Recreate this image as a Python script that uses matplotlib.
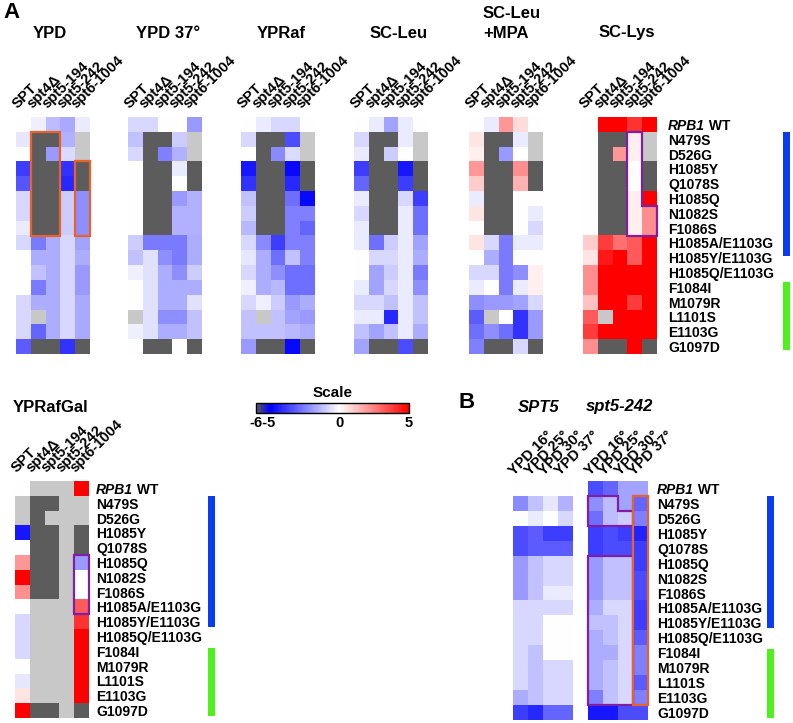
import numpy as np
import matplotlib.pyplot as plt
from matplotlib.colors import LinearSegmentedColormap, Normalize
from matplotlib.cm import ScalarMappable
from matplotlib.patches import Polygon

plt.rcParams['font.family'] = ['Liberation Sans', 'DejaVu Sans']
plt.rcParams['font.weight'] = 'bold'

W, H = 793, 723
D = -6.0      # no growth -> dark gray
N = np.nan    # not tested -> light gray

mutants = ['RPB1 WT', 'N479S', 'D526G', 'H1085Y', 'Q1078S', 'H1085Q', 'N1082S',
           'F1086S', 'H1085A/E1103G', 'H1085Y/E1103G', 'H1085Q/E1103G', 'F1084I',
           'M1079R', 'L1101S', 'E1103G', 'G1097D']
strains = ['SPT', 'spt4Δ', 'spt5-194', 'spt5-242', 'spt6-1004']
temps = ['YPD 16°', 'YPD 25°', 'YPD 30°', 'YPD 37°']

ypd = [
    [0, -0.3, -1.3, -1.7, -0.4],
    [-0.5, D, D, -1.5, N],
    [0, D, -2.0, -0.7, N],
    [-3.8, D, D, -4.0, D],
    [-3.3, D, D, -4.2, D],
    [-0.8, D, D, -1.0, -2.2],
    [-0.8, D, D, -1.0, -2.2],
    [-0.4, D, D, -1.0, -2.2],
    [-0.8, -2.6, -1.6, -0.8, -1.8],
    [0, -1.6, -1.6, -0.8, -1.6],
    [0, -1.2, -1.6, -0.8, -2.0],
    [0, -2.6, -1.6, -0.8, -2.0],
    [-0.8, -1.6, -1.6, -0.8, -1.7],
    [-0.8, N, -1.6, -0.8, -1.7],
    [-0.8, -3.0, -1.6, -0.8, -1.7],
    [-3.2, D, D, -4.0, D],
]
ypd37 = [
    [-0.8, -0.8, 0, 0, -2.0],
    [-1.2, D, D, -1.0, N],
    [-0.8, D, -2.5, -1.5, N],
    [0, D, D, -0.4, D],
    [0, D, D, 0, D],
    [0, D, D, -2.0, -1.5],
    [0, D, D, -1.5, -1.5],
    [0, D, D, -1.5, -1.5],
    [-1.0, -2.6, -2.6, -2.6, -1.6],
    [-1.2, -0.6, -2.2, -2.6, -1.6],
    [-0.3, -0.6, -1.6, -2.2, -1.0],
    [0, -0.6, -1.6, -1.6, -1.6],
    [0, -0.6, -1.6, -1.6, -0.6],
    [N, -0.6, -2.2, -2.2, -1.2],
    [-0.3, -0.6, -1.6, -1.6, -1.2],
    [0, D, D, 0, D],
]
ypraf = [
    [0, -0.4, -0.8, -0.8, 0],
    [-0.8, D, D, -3.5, N],
    [0, D, -2.3, -0.7, N],
    [-4.5, D, D, -4.8, D],
    [-4.0, D, D, -4.2, D],
    [-1.2, D, D, -2.8, -4.8],
    [-1.0, D, D, -2.5, -2.5],
    [-1.4, D, D, -2.5, -3.0],
    [-0.8, -2.3, -3.8, -2.5, -2.5],
    [-0.5, -1.6, -2.8, -1.2, -2.5],
    [-0.8, -1.6, -2.2, -2.8, -2.8],
    [-0.3, -1.6, -1.4, -2.8, -2.8],
    [-0.8, -0.3, -1.0, -2.0, -1.6],
    [-1.2, N, -1.2, -1.8, -2.0],
    [-1.2, -1.2, -1.2, -1.4, -1.6],
    [-2.0, D, D, -4.8, D],
]
scleu = [
    [0, -0.4, -1.8, -0.4, 0],
    [-0.8, D, D, -0.4, N],
    [-0.4, D, -1.0, 0, N],
    [-3.8, D, D, -4.5, D],
    [-3.0, D, D, -3.8, D],
    [-0.4, D, D, -0.8, -3.8],
    [-0.8, D, D, -0.4, -2.8],
    [-0.4, D, D, -0.4, -2.8],
    [-0.4, -2.8, -1.0, -0.4, -1.8],
    [0, -0.8, -0.8, -0.4, -1.6],
    [0, -1.8, -1.0, -0.4, -2.6],
    [-0.4, -1.8, -0.8, -0.4, -2.2],
    [-0.8, -0.8, -1.2, -0.4, -1.2],
    [-0.4, -0.4, -4.2, -0.4, -1.2],
    [-1.2, -1.8, -1.2, -0.4, -1.6],
    [-1.8, D, D, -3.5, D],
]
scleu_mpa = [
    [0, -0.4, 2.0, 0.7, 0],
    [0.5, D, D, -0.4, N],
    [0.3, D, -2.0, 0, N],
    [2.0, D, D, 2.2, D],
    [1.0, D, D, 1.5, D],
    [-0.4, D, D, 0, 0],
    [0.5, D, D, 0, -0.4],
    [0, D, D, 0, -0.8],
    [0.5, -0.8, -2.6, -0.4, -0.4],
    [0, -1.6, -2.6, 0, 0],
    [-0.8, -0.8, -2.6, -2.2, 0.3],
    [-0.4, 0, -2.6, -0.4, 0.3],
    [-2.2, -2.0, -2.0, -1.8, -0.8],
    [-3.2, N, 0, -4.0, -2.0],
    [-2.8, -2.2, -2.8, -4.0, -2.0],
    [-2.5, D, D, -0.8, D],
]
sclys = [
    [0, 5, 5, 4, 5],
    [0, D, D, 0.3, N],
    [0, D, 2.0, 0.3, N],
    [0, D, D, 0, D],
    [0, D, D, 0, D],
    [0, D, D, 0.3, 5],
    [0, D, D, 0.3, 2.2],
    [0, D, D, 0.3, 2.2],
    [1.0, 3.8, 2.8, 3.2, 5],
    [0.5, 4.5, 5, 3.2, 5],
    [2.2, 5, 5, 5, 5],
    [2.2, 5, 5, 5, 5],
    [1.2, 5, 5, 3.8, 5],
    [3.2, N, 5, 5, 5],
    [3.8, 5, 5, 5, 5],
    [2.2, D, D, 5, D],
]
rafgal = [
    [0, N, N, N, 5],
    [N, D, D, N, N],
    [N, D, N, N, N],
    [-4.5, D, D, N, D],
    [0, D, D, N, D],
    [2.0, D, D, N, -2.0],
    [5, D, D, N, 0],
    [2.2, D, D, N, 0],
    [0, N, N, N, 3.2],
    [-0.8, N, N, N, 4.0],
    [-0.8, N, N, N, 5],
    [-0.8, N, N, N, 5],
    [0, N, N, N, 5],
    [-0.5, N, N, N, 5],
    [0.5, N, N, N, 5],
    [5, D, D, N, D],
]
spt5_wt = [
    [0, 0, 0, 0],
    [-2.3, -1.2, -0.5, -1.5],
    [0, -0.4, 0, -0.8],
    [-3.5, -3.2, -3.8, -3.8],
    [-3.5, -3.2, -3.2, -3.2],
    [-2.0, -1.2, -0.8, -0.8],
    [-2.0, -1.2, -0.8, -0.8],
    [-2.0, -1.2, -0.4, -0.4],
    [-0.8, -0.8, -0.8, -0.8],
    [-0.8, -0.8, 0, 0],
    [-0.8, -0.8, 0, 0],
    [-0.8, -1.2, 0, 0],
    [-0.8, -1.2, -0.8, -0.8],
    [-0.8, -1.2, -0.8, -0.8],
    [-1.6, -1.2, -0.8, -0.8],
    [-3.8, -4.2, -3.0, -3.0],
]
spt5_242 = [
    [-3.5, -3.0, -1.8, -1.8],
    [-2.2, -1.3, -1.8, -3.0],
    [-2.8, -1.3, -1.0, -2.5],
    [-3.8, -3.5, -3.8, -4.3],
    [-3.8, -3.5, -3.5, -3.8],
    [-2.0, -1.2, -1.2, -3.8],
    [-2.0, -1.2, -1.2, -3.5],
    [-2.0, -1.2, -1.2, -3.5],
    [-1.6, -0.8, -0.8, -3.8],
    [-1.2, -1.2, -0.8, -3.8],
    [-1.6, -1.2, -0.8, -3.2],
    [-1.6, -1.6, -0.8, -2.5],
    [-1.6, -1.2, -0.8, -2.5],
    [-1.6, -1.2, -0.8, -3.2],
    [-2.5, -1.2, -0.8, -2.5],
    [-4.5, -4.5, -3.5, -3.5],
]

# row spans of the side bars (blue = first group, green = second group)
blue_span_top, green_span_top = (0.5, 8.9), (10.65, 15.25)
blue_span_low, green_span_low = (0.5, 9.35), (10.75, 15.35)

cmap = LinearSegmentedColormap.from_list(
    'scale', [(0, '#5c5c5c'), (1 / 11, '#0000ff'), (6 / 11, '#ffffff'), (1, '#ff0000')])
cmap.set_bad('#c8c8c8')
norm = Normalize(vmin=-6, vmax=5)
ORANGE = '#e8622a'
PURPLE = '#7f1fa3'

fig = plt.figure(figsize=(W / 100, H / 100), dpi=100)


def px_rect(x0, y0, w, h):
    return [x0 / W, 1 - (y0 + h) / H, w / W, h / H]


def fig_text(x, y, s, **kw):
    fig.text(x / W, 1 - y / H, s, va='center', **kw)


def heatmap(x0, y0, w, h, values, cols, gap=8):
    ax = fig.add_axes(px_rect(x0, y0, w, h))
    ax.imshow(np.array(values, float), cmap=cmap, norm=norm,
              aspect='auto', interpolation='nearest')
    ax.set_xticks([])
    ax.set_yticks([])
    for s in ax.spines.values():
        s.set_visible(False)
    for i, lab in enumerate(cols):
        ax.annotate(lab, xy=(i - 0.4, -0.5), xytext=(0, gap), textcoords='offset pixels',
                    rotation=45, rotation_mode='anchor', ha='left', va='baseline',
                    fontsize=10.5, fontweight='bold')
    return ax


def row_labels(ax, pad):
    for i, m in enumerate(mutants):
        if i == 0:
            t = ax.annotate('RPB1', xy=(1, i), xycoords=('axes fraction', 'data'),
                            xytext=(pad, 0), textcoords='offset pixels',
                            ha='left', va='center_baseline', fontsize=10,
                            fontweight='bold', fontstyle='italic')
            ax.annotate(' WT', xy=(1, 0), xycoords=t, ha='left', va='bottom',
                        fontsize=10, fontweight='bold')
        else:
            ax.annotate(m, xy=(1, i), xycoords=('axes fraction', 'data'),
                        xytext=(pad, 0), textcoords='offset pixels',
                        ha='left', va='center_baseline', fontsize=10, fontweight='bold')


def side_bars(x0, y0, h, blue, green):
    bax = fig.add_axes(px_rect(x0, y0, 7, h))
    bax.set_ylim(15.5, -0.5)
    bax.set_xlim(0, 1)
    bax.bar(0.5, blue[1] - blue[0], bottom=blue[0], width=1, color='#0a3cf2')
    bax.bar(0.5, green[1] - green[0], bottom=green[0], width=1, color='#4ff01c')
    bax.axis('off')


def outline(ax, pts, color):
    ax.add_patch(Polygon(pts, closed=True, fill=False, edgecolor=color,
                         lw=1.6, clip_on=False, zorder=5))


# ---- panel A, top row
top_y, top_h, cell_w = 117, 237, 74
top_x = [16, 128, 241, 354, 469, 583]
panels = [ypd, ypd37, ypraf, scleu, scleu_mpa, sclys]
axes = [heatmap(x, top_y, cell_w, top_h, v, strains) for x, v in zip(top_x, panels)]

outline(axes[0], [(0.5, 0.5), (2.5, 0.5), (2.5, 7.5), (0.5, 7.5)], ORANGE)
outline(axes[0], [(3.5, 2.5), (4.5, 2.5), (4.5, 7.5), (3.5, 7.5)], ORANGE)
outline(axes[5], [(2.5, 0.5), (3.5, 0.5), (3.5, 5.5), (4.5, 5.5), (4.5, 7.5), (2.5, 7.5)], PURPLE)
row_labels(axes[5], 11)
side_bars(783, top_y, top_h, blue_span_top, green_span_top)

fig_text(3, 13, 'A', fontsize=16, fontweight='bold')
for x, title in [(50, 'YPD'), (168, 'YPD 37°'), (281, 'YPRaf'), (399, 'SC-Leu'), (627, 'SC-Lys')]:
    fig_text(x, 33, title, ha='center', fontsize=12, fontweight='bold')
fig_text(483, 13, 'SC-Leu', ha='left', fontsize=12, fontweight='bold')
fig_text(483, 33, '+MPA', ha='left', fontsize=12, fontweight='bold')

# ---- YPRafGal
ax_rg = heatmap(15, 481, 74, 237, rafgal, strains)
outline(ax_rg, [(3.5, 4.5), (4.5, 4.5), (4.5, 8.5), (3.5, 8.5)], PURPLE)
row_labels(ax_rg, 7)
side_bars(208, 481, 237, blue_span_low, green_span_low)
fig_text(13, 408, 'YPRafGal', ha='left', fontsize=12, fontweight='bold')

# ---- colour scale
cax = fig.add_axes(px_rect(256, 403, 153, 10))
cb = fig.colorbar(ScalarMappable(norm=norm, cmap=cmap), cax=cax, orientation='horizontal')
cb.set_ticks([-5.5, 0, 5], labels=['-6-5', '0', '5'])
cax.tick_params(length=0, labelsize=10.5, pad=2)
cb.outline.set_linewidth(1.0)
cax.set_title('Scale', fontsize=11, fontweight='bold', pad=4)

# ---- panel B
ax_b1 = heatmap(513, 481, 60, 239, spt5_wt, temps, gap=5)
ax_b2 = heatmap(588, 481, 60, 239, spt5_242, temps, gap=5)
outline(ax_b2, [(-0.5, 0.5), (1.5, 0.5), (1.5, 1.5), (2.5, 1.5), (2.5, 2.5), (-0.5, 2.5)], PURPLE)
outline(ax_b2, [(-0.5, 4.5), (2.5, 4.5), (2.5, 14.5), (-0.5, 14.5)], PURPLE)
outline(ax_b2, [(2.5, 0.5), (3.5, 0.5), (3.5, 14.5), (2.5, 14.5)], ORANGE)
row_labels(ax_b2, 9)
side_bars(767, 481, 239, blue_span_low, green_span_low)
fig_text(458, 403, 'B', ha='left', fontsize=16, fontweight='bold')
fig_text(539, 407, 'SPT5', ha='center', fontsize=12, fontweight='bold', fontstyle='italic')
fig_text(619, 407, 'spt5-242', ha='center', fontsize=12, fontweight='bold', fontstyle='italic')

fig.savefig('out.png', dpi=100)
